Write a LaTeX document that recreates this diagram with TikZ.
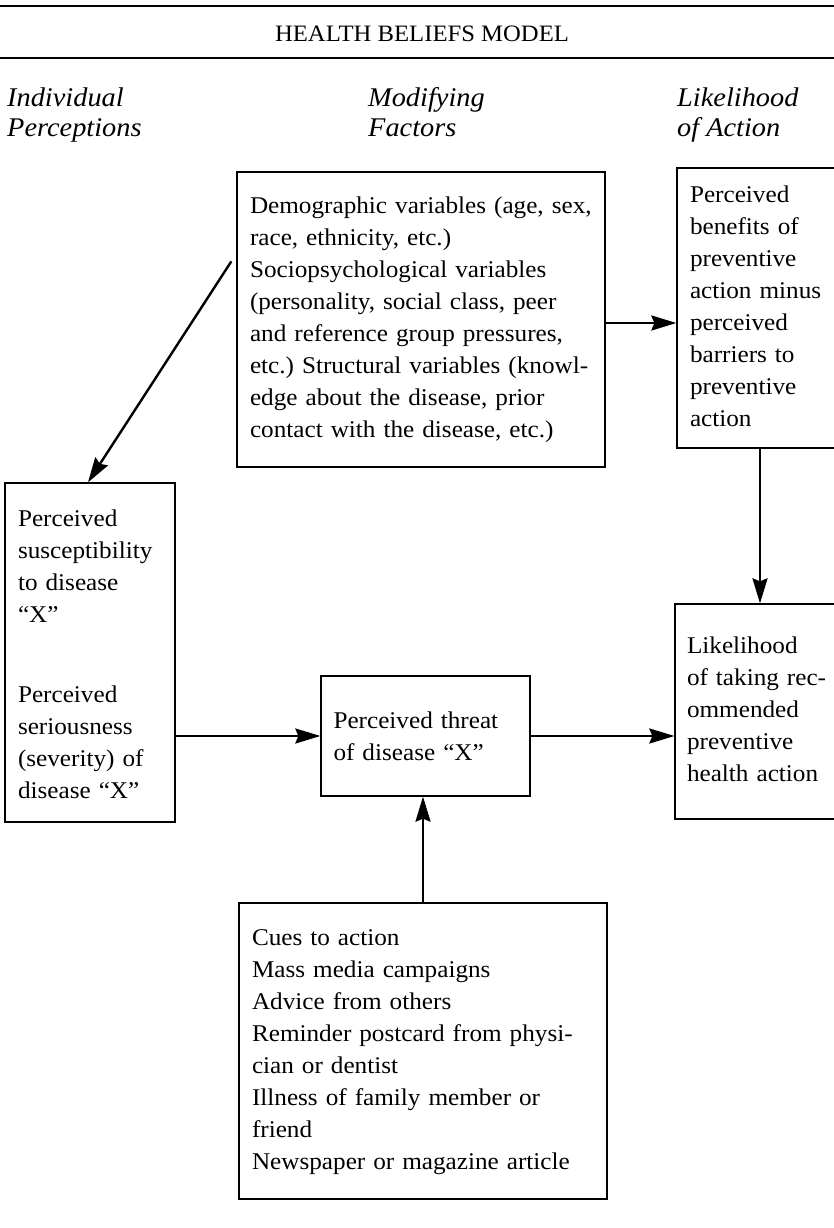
\documentclass[tikz,border=0pt]{standalone}
\usepackage{fontspec}
\setmainfont{Liberation Serif}[FakeStretch=1.05]
\usetikzlibrary{arrows.meta,calc}
\frenchspacing
\newcommand\boxlines[1]{\begin{tabular}{@{}l@{}}#1\end{tabular}}
\begin{document}
\begin{tikzpicture}[x=1pt,y=-1pt,
  box/.style={draw,line width=1.3pt,inner xsep=13pt,inner ysep=0pt,align=left,
    font=\fontsize{24}{32}\selectfont\frenchspacing},
  head/.style={anchor=base west,inner sep=0pt,align=left,
    font=\fontsize{27}{30}\selectfont\itshape},
  conn/.style={line width=2.4pt,-{Stealth[length=25pt,width=15pt,inset=3pt]}}]
\useasboundingbox (0,0) rectangle (834,1228);
\fill[white] (0,0) rectangle (834,1228);
% rules and title
\coordinate (r1l) at (0,6); \coordinate (r1r) at (834,6);
\coordinate (r2l) at (0,58); \coordinate (r2r) at (834,58);
\draw[line width=1.4pt] (r1l) -- (r1r);
\draw[line width=1.8pt] (r2l) -- (r2r);
\node[anchor=base,inner sep=0pt,font=\fontsize{23.5}{26}\selectfont] (title) at (422,42) {HEALTH BELIEFS MODEL};
% column headings (anchor = baseline of last line)
\node[head] (h1) at (7,136) {Individual\\Perceptions};
\node[head] (h2) at (368,136) {Modifying\\Factors};
\node[head] (h3) at (677,136) {Likelihood\\of Action};
% boxes
\node[box,minimum width=368pt,minimum height=295pt,text width=342pt] (demo) at (421,319.5)
  {\boxlines{Demographic variables (age, sex,\\race, ethnicity, etc.)\\Sociopsychological variables\\(personality, social class, peer\\and reference group pressures,\\etc.) Structural variables (knowl-\\edge about the disease, prior\\contact with the disease, etc.)}};
\node[box,minimum width=158pt,minimum height=280pt,text width=132pt] (ben) at (756,308)
  {\boxlines{Perceived\\benefits of\\preventive\\action minus\\perceived\\barriers to\\preventive\\action}};
\node[box,minimum width=170pt,minimum height=339pt,text width=144pt] (sus) at (90,652.5)
  {\boxlines{Perceived\\susceptibility\\to disease\\“X”\\[48pt]Perceived\\seriousness\\(severity) of\\disease “X”\\[-8pt]}};
\node[box,minimum width=209pt,minimum height=120pt,text width=184pt,inner xsep=12.5pt] (threat) at (425.5,736)
  {\boxlines{Perceived threat\\of disease “X”\\[-4pt]}};
\node[box,minimum width=160pt,minimum height=215pt,text width=136pt,inner xsep=12pt] (like) at (755,711.5)
  {\boxlines{Likelihood\\of taking rec-\\ommended\\preventive\\health action}};
\node[box,minimum width=368pt,minimum height=296pt,text width=342pt] (cues) at (423,1051)
  {\boxlines{Cues to action\\Mass media campaigns\\Advice from others\\Reminder postcard from physi-\\cian or dentist\\Illness of family member or\\friend\\Newspaper or magazine article}};
% connectors
\coordinate (dstart) at ([shift={(-5,90)}]demo.north west);
\draw[conn] (dstart) -- ([xshift=-2pt]sus.north);
\coordinate (a1) at ([yshift=-3.5pt]demo.east);
\draw[conn] (a1) -- (a1 -| ben.west);
\coordinate (b1) at ([xshift=4pt]ben.south);
\draw[conn] (b1) -- (b1 |- like.north);
\draw[conn] (threat.west -| sus.east) -- (threat.west);
\draw[conn] (threat.east) -- (threat.east -| like.west);
\draw[conn] (cues.north) -- (cues.north |- threat.south);
\end{tikzpicture}
\end{document}
